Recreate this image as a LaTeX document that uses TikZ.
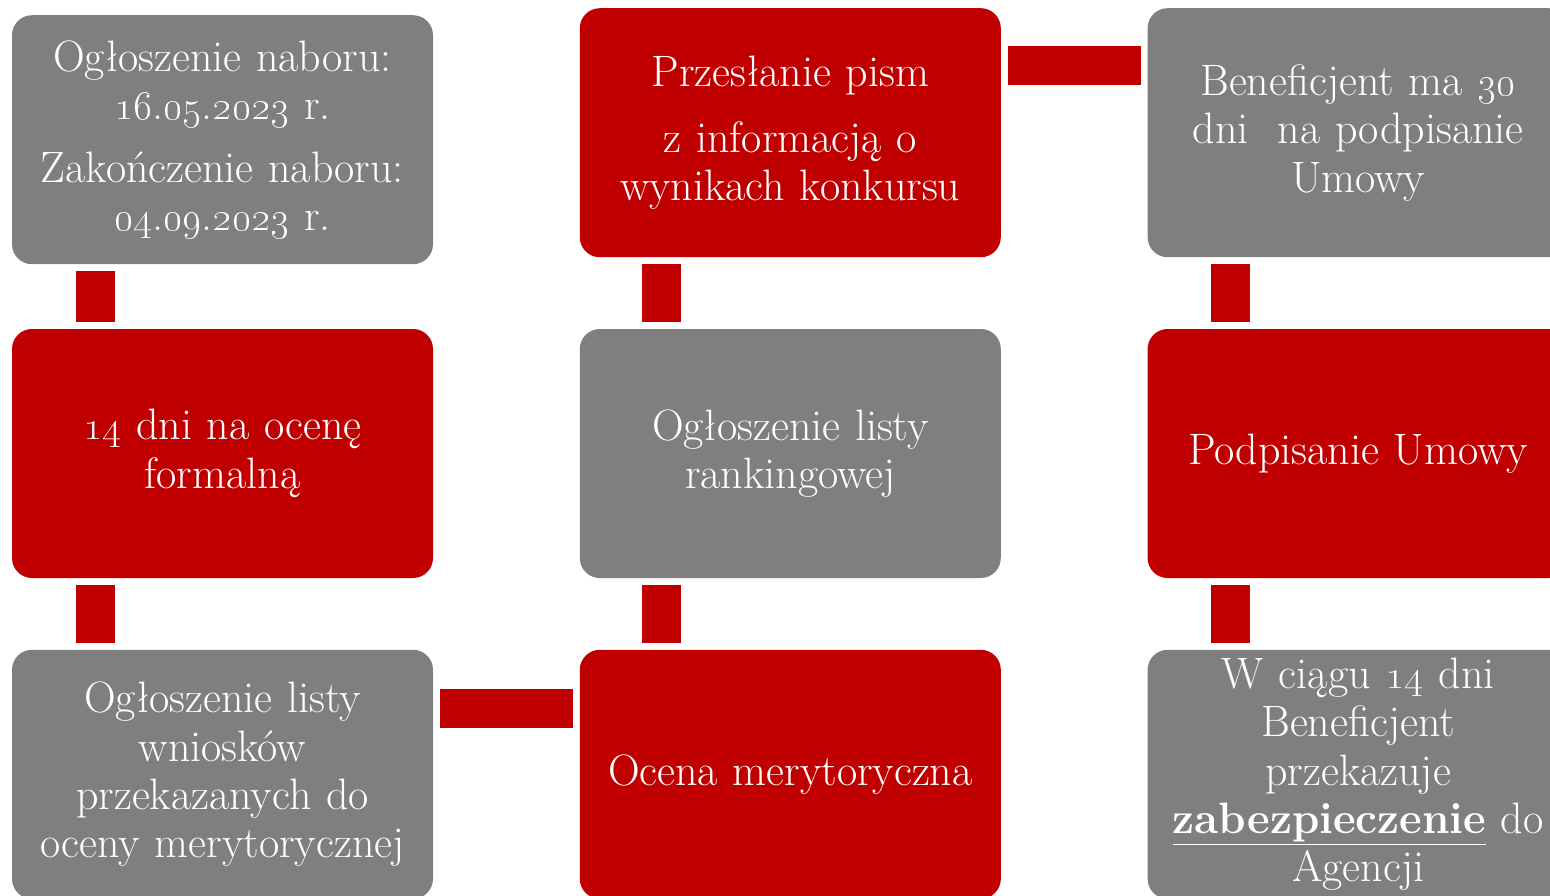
\documentclass[tikz,border=0pt]{standalone}
\usepackage{xcolor}
\usepackage{tikz}
\usetikzlibrary{positioning}

\definecolor{boxred}{HTML}{C00000}
\definecolor{boxgrey}{HTML}{7F7F7F}
\newcommand{\osn}[1]{\oldstylenums{#1}}

\begin{document}
\begin{tikzpicture}[node distance=35.5pt and 73pt,
  box/.style={rectangle, rounded corners=10pt, minimum width=210.5pt, minimum height=124.5pt,
    text width=208pt, align=center, text=white, inner sep=0pt,
    font=\fontsize{22}{24.2}\selectfont},
  greybox/.style={box, fill=boxgrey},
  redbox/.style={box, fill=boxred},
  link/.style={draw=boxred, line width=19.5pt, shorten <=3.25pt, shorten >=3.25pt}]
  \useasboundingbox (0,0) rectangle (775pt,-447.5pt);

  \node[redbox] (formal) at (111.25pt,-226.75pt) {\osn{14} dni na ocenę\\formalną};
  \node[greybox, above=32pt of formal] (nabor) {Ogłoszenie naboru:\\\osn{16}.\osn{05}.\osn{2023} r.\\[7pt]Zakończenie naboru:\\\osn{04}.\osn{09}.\osn{2023} r.};
  \node[greybox, below=of formal] (lista) {Ogłoszenie listy\\wniosków\\przekazanych do\\oceny merytorycznej};
  \node[greybox, right=of formal] (ranking) {Ogłoszenie listy\\rankingowej};
  \node[redbox, below=of ranking] (ocena) {Ocena merytoryczna};
  \node[redbox, above=of ranking] (pisma) {Przesłanie pism\\[9pt]z informacją o\\wynikach konkursu};
  \node[redbox, right=of ranking] (umowa) {Podpisanie Umowy};
  \node[greybox, above=of umowa] (termin) {Beneficjent ma \osn{30}\\dni\ \ na podpisanie\\Umowy};
  \node[greybox, below=of umowa] (zabezp) {W ciągu \osn{14} dni\\Beneficjent\\przekazuje\\\underline{\textbf{zabezpieczenie}} do\\Agencji};

  \draw[link] ([xshift=41.75pt]nabor.south west) -- ([xshift=41.75pt]formal.north west);
  \draw[link] ([xshift=41.75pt]formal.south west) -- ([xshift=41.75pt]lista.north west);
  \draw[link] ([yshift=-29.5pt]lista.north east) -- ([yshift=-29.5pt]ocena.north west);
  \draw[link] ([xshift=41.25pt]ocena.north west) -- ([xshift=41.25pt]ranking.south west);
  \draw[link] ([xshift=41.25pt]ranking.north west) -- ([xshift=41.25pt]pisma.south west);
  \draw[link] ([yshift=-29pt]pisma.north east) -- ([yshift=-29pt]termin.north west);
  \draw[link] ([xshift=41.75pt]termin.south west) -- ([xshift=41.75pt]umowa.north west);
  \draw[link] ([xshift=41.75pt]umowa.south west) -- ([xshift=41.75pt]zabezp.north west);
\end{tikzpicture}
\end{document}
